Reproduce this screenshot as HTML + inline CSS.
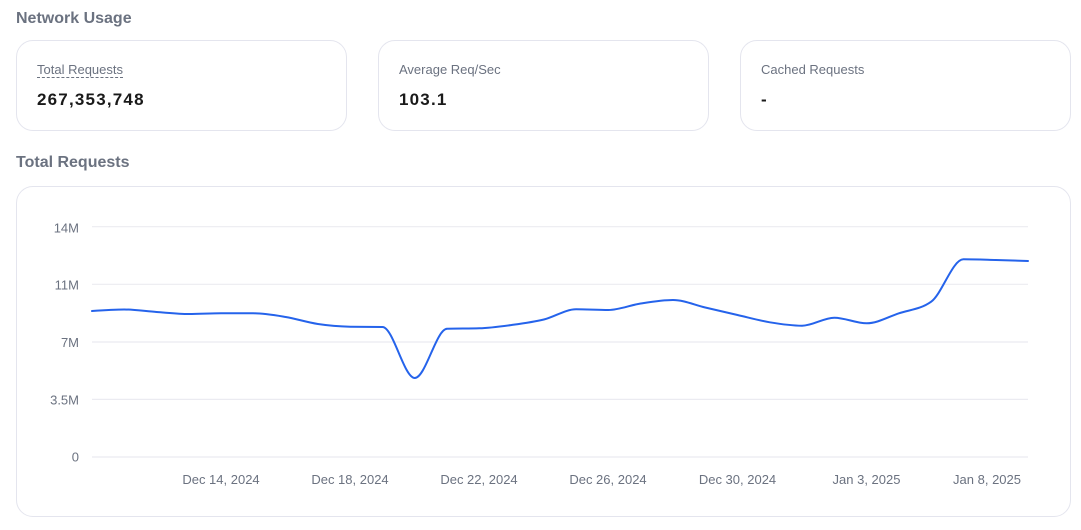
<!DOCTYPE html>
<html>
<head>
<meta charset="utf-8">
<style>
  html,body{margin:0;padding:0;background:#fff;}
  body{width:1081px;height:530px;position:relative;overflow:hidden;font-family:"Liberation Sans",Arial,sans-serif;}
  .h{position:absolute;left:16px;font-size:16px;line-height:20px;font-weight:bold;color:#6b7280;}
  .card{position:absolute;top:40px;height:89px;width:329px;border:1px solid #e4e5ee;border-radius:17px;background:#fff;}
  .lbl{position:absolute;left:20px;top:22px;font-size:13px;line-height:13px;color:#6b7280;}
  .lbl.u{padding-bottom:1px;border-bottom:1px dashed #6b7280;}
  .val{position:absolute;left:20px;top:49px;font-size:17px;line-height:20px;font-weight:bold;color:#1a1a1a;letter-spacing:1.2px;}
  .chart{position:absolute;left:16px;top:186px;width:1053px;height:329px;border:1px solid #e4e5ee;border-radius:17px;}
  svg{position:absolute;left:0;top:0;}
  svg text{font-family:"Liberation Sans",Arial,sans-serif;font-size:13px;fill:#6b7280;}
</style>
</head>
<body>
<div class="h" style="top:9px;">Network Usage</div>

<div class="card" style="left:16px;">
  <span class="lbl u">Total Requests</span>
  <div class="val">267,353,748</div>
</div>
<div class="card" style="left:378px;">
  <span class="lbl">Average Req/Sec</span>
  <div class="val">103.1</div>
</div>
<div class="card" style="left:740px;">
  <span class="lbl">Cached Requests</span>
  <div class="val">-</div>
</div>

<div class="h" style="top:153px;">Total Requests</div>
<div class="chart"></div>

<svg width="1081" height="530" viewBox="0 0 1081 530">
  <g stroke="#ebebf1" stroke-width="1.2">
    <line x1="92" y1="226.7" x2="1028" y2="226.7"/>
    <line x1="92" y1="284.3" x2="1028" y2="284.3"/>
    <line x1="92" y1="342" x2="1028" y2="342"/>
    <line x1="92" y1="399.4" x2="1028" y2="399.4"/>
    <line x1="92" y1="457" x2="1028" y2="457"/>
  </g>
  <g text-anchor="end">
    <text x="79" y="232.5">14M</text>
    <text x="79" y="289.5">11M</text>
    <text x="79" y="347">7M</text>
    <text x="79" y="404.5">3.5M</text>
    <text x="79" y="461.5">0</text>
  </g>
  <g text-anchor="middle">
    <text x="221" y="484">Dec 14, 2024</text>
    <text x="350" y="484">Dec 18, 2024</text>
    <text x="479" y="484">Dec 22, 2024</text>
    <text x="608" y="484">Dec 26, 2024</text>
    <text x="737.5" y="484">Dec 30, 2024</text>
    <text x="866.5" y="484">Jan 3, 2025</text>
  </g>
  <text x="1021" y="484" text-anchor="end">Jan 8, 2025</text>
  <path id="series" fill="none" stroke="#2563eb" stroke-width="2" stroke-linejoin="round" stroke-linecap="round" d=""/>
</svg>

<script>
(function(){
  var ys=[311,309.5,312,314,313.3,313.3,317,324,326.7,327,378,328.8,328.3,325,319.5,309.3,310,303.5,300,307.5,315,322.3,325.7,317.7,323.3,313.3,301.7,259.3,260,261];
  var n=ys.length, x0=92, x1=1028, step=(x1-x0)/(n-1);
  var xs=[];for(var i=0;i<n;i++)xs.push(x0+i*step);
  function sign(v){return v<0?-1:1;}
  function slope3(i){
    var h0=xs[i]-xs[i-1],h1=xs[i+1]-xs[i];
    var s0=(ys[i]-ys[i-1])/h0,s1=(ys[i+1]-ys[i])/h1;
    var p=(s0*h1+s1*h0)/(h0+h1);
    return (sign(s0)+sign(s1))*Math.min(Math.abs(s0),Math.abs(s1),0.5*Math.abs(p))||0;
  }
  var m=new Array(n);
  for(var i=1;i<n-1;i++)m[i]=slope3(i);
  m[0]=(3*(ys[1]-ys[0])/(xs[1]-xs[0])-m[1])/2;
  m[n-1]=(3*(ys[n-1]-ys[n-2])/(xs[n-1]-xs[n-2])-m[n-2])/2;
  var d="M"+xs[0].toFixed(2)+","+ys[0].toFixed(2);
  for(var i=0;i<n-1;i++){
    var dx=(xs[i+1]-xs[i])/3;
    d+="C"+(xs[i]+dx).toFixed(2)+","+(ys[i]+dx*m[i]).toFixed(2)+","+(xs[i+1]-dx).toFixed(2)+","+(ys[i+1]-dx*m[i+1]).toFixed(2)+","+xs[i+1].toFixed(2)+","+ys[i+1].toFixed(2);
  }
  document.getElementById("series").setAttribute("d",d);
})();
</script>
</body>
</html>
